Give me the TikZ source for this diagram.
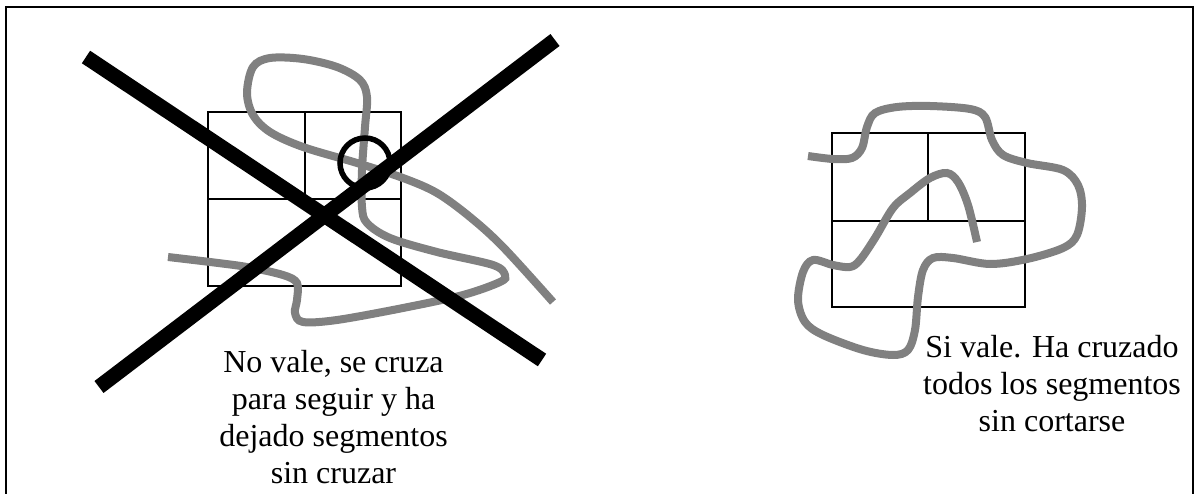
\documentclass[tikz,border=0pt]{standalone}
\usepackage{fontspec}
\setmainfont{Liberation Serif}
\definecolor{gray50}{RGB}{128,128,128}
\tikzset{
  px/.style={x=1pt,y=-1pt},
  grid/.style={draw=black,line width=1.8pt},
  frameline/.style={draw=black,line width=2pt},
  curve/.style={draw=gray50,line width=8pt,smooth,tension=0.55},
  cross/.style={draw=black,line width=15pt},
  ring/.style={draw=black,line width=5.5pt},
  note/.style={align=center,font=\fontsize{32}{37}\selectfont,inner sep=0pt,anchor=north}
}
\begin{document}
\begin{tikzpicture}[px]
\useasboundingbox (0,0) rectangle (1196,494);
\draw[frameline] (6,494) -- (6,7) -- (1193,7) -- (1193,494);
% left grid
\draw[grid] (208,112) rectangle (401,286);
\draw[grid] (208,199) -- (401,199);
\draw[grid] (305,112) -- (305,199);
% left curve
\draw[curve] plot coordinates {(168,257) (210,262) (247,267) (283,275) (297,283) (297,300) (295,313) (303,322) (337,320) (403,308) (463,295) (500,282) (505,275) (493,265) (437,252) (390,238) (367,223) (362,207) (362,170) (365,127) (367,97) (360,80) (337,67) (303,59) (270,58) (253,67) (247,93) (253,115) (270,132) (303,147) (357,163) (403,178) (437,193) (470,217) (503,247) (553,302)};
\draw[ring] (365,163) circle (25);
\draw[cross] (86,57) -- (542,360);
\draw[cross] (555,40) -- (99,387);
\node[note] (left) at (333.5,350) {No vale, se cruza\\para seguir y ha\\dejado segmentos\\sin cruzar};
% right grid
\draw[grid] (832,133) rectangle (1025,307);
\draw[grid] (832,221) -- (1025,221);
\draw[grid] (928,133) -- (928,221);
\draw[curve] plot coordinates {(808,156) (833,159) (852,158) (862,148) (867,127) (875,113) (897,107) (930,106) (970,109) (985,117) (992,140) (1003,155) (1027,163) (1063,170) (1078,185) (1082,207) (1077,235) (1063,248) (1027,259) (990,264) (953,258) (933,258) (923,270) (918,297) (915,330) (908,350) (893,355) (863,350) (823,335) (805,322) (798,300) (803,272) (813,260) (833,265) (850,267) (860,260) (875,238) (893,208) (910,193) (930,178) (947,173) (958,182) (968,205) (977,242)};
\node[note] (right) at (1052,335) {Si vale. Ha cruzado\\todos los segmentos\\sin cortarse};
\end{tikzpicture}
\end{document}
